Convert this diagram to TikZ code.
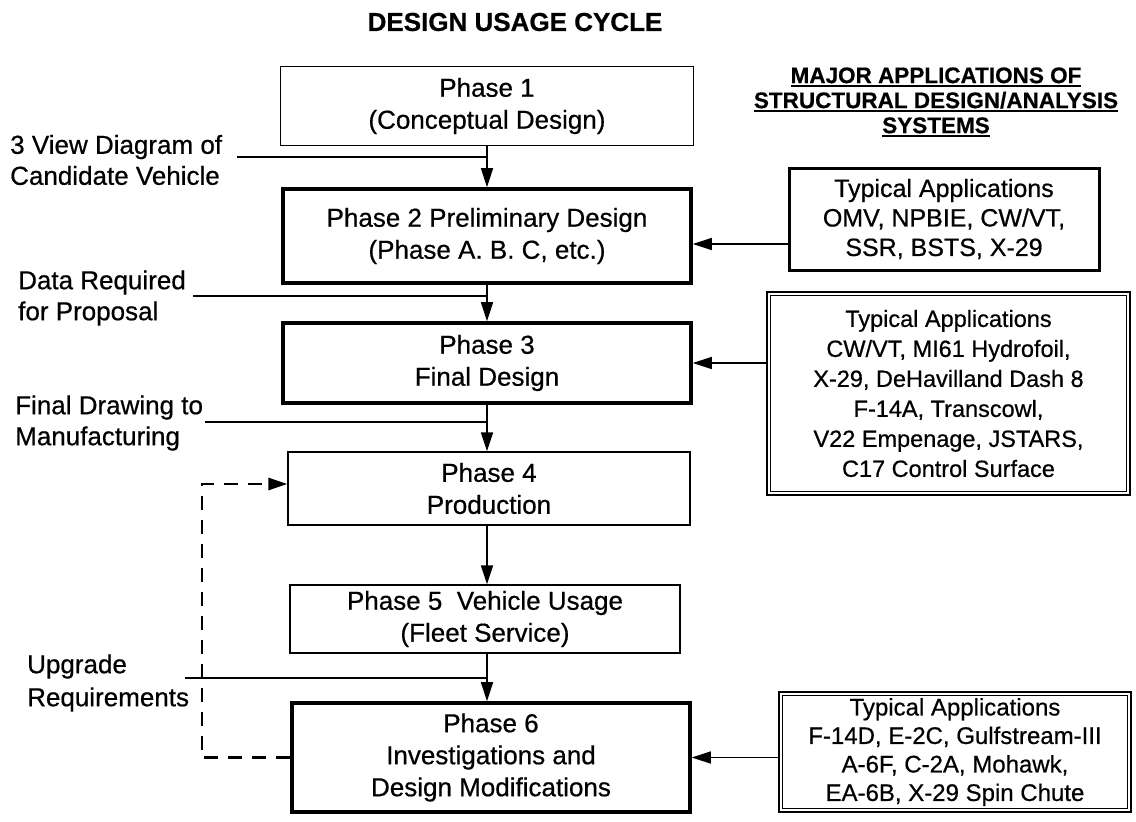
\documentclass[tikz,border=0pt]{standalone}
\usepackage{fontspec}
\setmainfont{Liberation Sans}[FakeBold=0.6]
\usetikzlibrary{arrows.meta,calc}
\newcommand\hdul[1]{\setbox0\hbox{#1}\rlap{\rule[-3.5pt]{\wd0}{1.8pt}}\box0}
\begin{document}
\begin{tikzpicture}[x=1pt,y=-1pt,
  phasebox/.style={draw,line width=1.3pt,rectangle,align=center,inner sep=0pt,font=\fontsize{26}{32}\selectfont},
  thickbox/.style={phasebox,line width=3.6pt},
  appbox/.style={draw,line width=3pt,rectangle,align=center,inner sep=0pt,font=\fontsize{25}{29.5}\selectfont},
  dblbox/.style={draw,line width=2.4pt,rectangle,align=center,inner sep=0pt,font=\fontsize{23.5}{30}\selectfont},
  lbl/.style={align=left,anchor=west,inner sep=0pt,font=\fontsize{26}{31}\selectfont},
  arr/.style={line width=1.7pt,-{Triangle[length=19pt,width=12pt]}},
  feed/.style={line width=1.5pt},
  dashline/.style={line width=2.8pt,dash pattern=on 14pt off 10pt,-{Triangle[length=19pt,width=12pt]}},
  hdr/.style={align=center,inner sep=0pt,font=\bfseries\fontsize{22.5}{25}\selectfont}
]
\useasboundingbox (0,0) rectangle (1136,822);

% title
\node[inner sep=0pt,font=\bfseries\fontsize{26}{30}\selectfont] (title) at (515,22) {DESIGN USAGE CYCLE};

% phase boxes
\node[phasebox,minimum width=413pt,minimum height=79pt] (p1) at (487,106) {Phase 1\\(Conceptual Design)};
\node[thickbox,minimum width=408pt,minimum height=94pt] (p2) at (487,236) {Phase 2 Preliminary Design\\(Phase A. B. C, etc.)};
\node[thickbox,minimum width=408pt,minimum height=80pt] (p3) at (487,363) {Phase 3\\Final Design};
\node[phasebox,minimum width=402pt,minimum height=73pt] (p4) at (489,488.5) {Phase 4\\Production};
\node[phasebox,minimum width=390pt,minimum height=68pt] (p5) at (485,619) {Phase 5\ \ Vehicle Usage\\(Fleet Service)};
\node[thickbox,minimum width=398pt,minimum height=109pt] (p6) at (491,757.5) {Phase 6\\Investigations and\\Design Modifications};

% header
\node[hdr] (hd) at (936,102) {\hdul{MAJOR APPLICATIONS OF}\\\hdul{STRUCTURAL DESIGN/ANALYSIS}\\\hdul{SYSTEMS}};

% application boxes
\node[appbox,minimum width=310pt,minimum height=102pt] (r1) at (944,219) {Typical Applications\\OMV, NPBIE, CW/VT,\\SSR, BSTS, X-29};
\node[dblbox,minimum width=363pt,minimum height=203pt] (r2) at (948.5,393.5) {Typical Applications\\CW/VT, MI61 Hydrofoil,\\X-29, DeHavilland Dash 8\\F-14A, Transcowl,\\V22 Empenage, JSTARS,\\C17 Control Surface};
\node[dblbox,minimum width=352pt,minimum height=120pt,font=\fontsize{24}{28.5}\selectfont] (r3) at (955,752) {Typical Applications\\F-14D, E-2C, Gulfstream-III\\A-6F, C-2A, Mohawk,\\EA-6B, X-29 Spin Chute};
\draw[line width=1pt] ([shift={(5pt,-5pt)}]r2.north west) rectangle ([shift={(-5pt,5pt)}]r2.south east);
\draw[line width=1pt] ([shift={(5pt,-5pt)}]r3.north west) rectangle ([shift={(-5pt,5pt)}]r3.south east);

% left labels
\node[lbl] (l1) at (10,160) {3 View Diagram of\\Candidate Vehicle};
\node[lbl] (l2) at (18,298) {Data Required\\for Proposal};
\node[lbl] (l3) at (15,423) {Final Drawing to\\Manufacturing};
\node[lbl,font=\fontsize{26}{33}\selectfont] (l4) at (27,683) {Upgrade\\Requirements};

% junction points
\coordinate (s1) at (237,157);
\coordinate (j1) at (487,157);
\coordinate (s2) at (193,296);
\coordinate (j2) at (487,296);
\coordinate (s3) at (205,422);
\coordinate (j3) at (487,422);
\coordinate (s4) at (185,678);
\coordinate (j4) at (487,678);

% flow arrows
\draw[arr] (p1.south) -- (p2.north);
\draw[arr] (p2.south) -- (p3.north);
\draw[arr] (p3.south) -- (p3.south |- p4.north);
\draw[arr] (p3.south |- p4.south) -- (p3.south |- p5.north);
\draw[arr] (p3.south |- p5.south) -- (p3.south |- p6.north);

% input lines
\draw[feed] (s1) -- (j1);
\draw[feed] (s2) -- (j2);
\draw[feed] (s3) -- (j3);
\draw[feed] (s4) -- (j4);

% application arrows
\coordinate (a2) at ([yshift=-8pt]p2.east);
\draw[arr] (r1.west |- a2) -- (a2);
\draw[arr] (r2.west |- p3.east) -- (p3.east);
\draw[arr] (r3.west |- p6.east) -- (p6.east);

% feedback dashed
\coordinate (dk) at (202,484);
\draw[dashline] (p6.west) -| (dk) -- (p4.west |- dk);
\end{tikzpicture}
\end{document}
